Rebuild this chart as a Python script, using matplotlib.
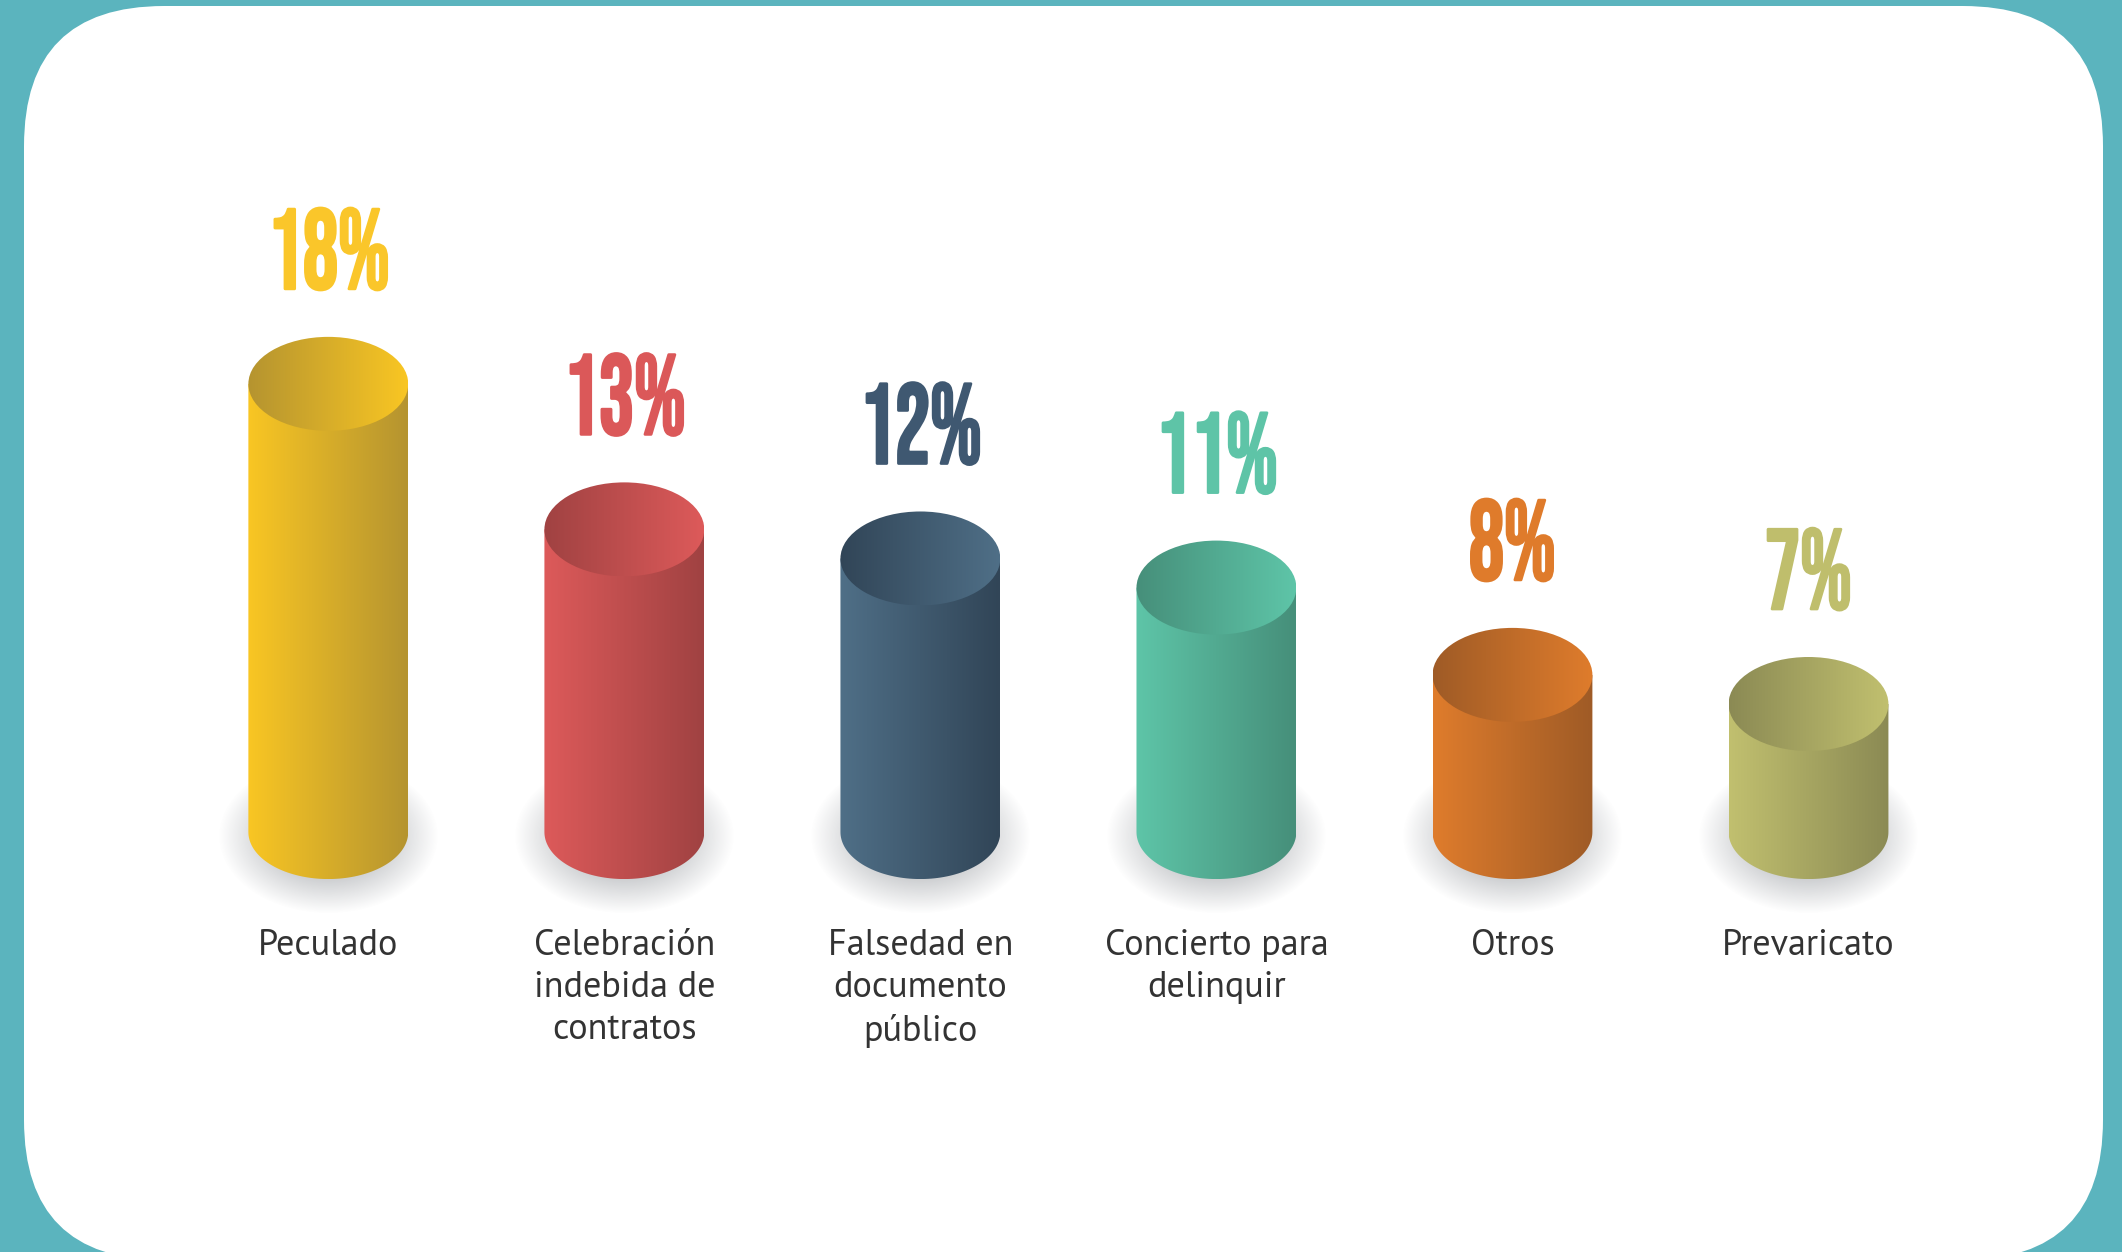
import numpy as np
import matplotlib
matplotlib.use("Agg")
import matplotlib.pyplot as plt
from matplotlib import patheffects
from matplotlib.colors import to_rgb
from matplotlib.patches import Ellipse, FancyBboxPatch, PathPatch
from matplotlib.path import Path
from matplotlib.transforms import Affine2D

categories = ["Peculado", "Celebración\nindebida de\ncontratos",
              "Falsedad en\ndocumento\npúblico", "Concierto para\ndelinquir",
              "Otros", "Prevaricato"]
values = [18, 13, 12, 11, 8, 7]
value_labels = ["18%", "13%", "12%", "11%", "8%", "7%"]

light = ["#F9C623", "#DD5A5A", "#4F6F87", "#5EC5A8", "#DF7C2C", "#C1C06F"]
dark = ["#B59430", "#A04242", "#314557", "#468F7A", "#9F5B26", "#8B8A54"]
text_colors = ["#FAC62A", "#DB5859", "#3F5871", "#5EC4A7", "#DF7B2B", "#BFBE6C"]

BASE = 2.6      # cylinders stand on this level
RX = 0.27       # ellipse half width (x units)
RY = 1.615      # ellipse half height (y units)


class Squeeze(patheffects.AbstractPathEffect):
    """Draw text narrower (squeezed around its own centre) and a bit heavier."""

    def __init__(self, sx, lw=2.0):
        super().__init__()
        self.sx = sx
        self.lw = lw

    def draw_path(self, renderer, gc, tpath, affine, rgbFace=None):
        verts = tpath.vertices
        if tpath.codes is not None:
            verts = verts[tpath.codes != Path.CLOSEPOLY]
        cx = 0.5 * (verts[:, 0].min() + verts[:, 0].max())
        squeeze = Affine2D().translate(-cx, 0).scale(self.sx, 1).translate(cx, 0)
        gc0 = renderer.new_gc()
        gc0.copy_properties(gc)
        gc0.set_linewidth(self.lw)
        gc0.set_joinstyle("round")
        gc0.set_foreground(rgbFace)
        renderer.draw_path(gc0, tpath, squeeze + affine, rgbFace)
        gc0.restore()


def gradient(c0, c1, n=256):
    t = np.linspace(0, 1, n)[None, :, None]
    return (1 - t) * np.array(to_rgb(c0)) + t * np.array(to_rgb(c1))


def draw_cylinder(ax, xc, top, c_light, c_dark):
    # soft shadow round the foot
    gx, gy = np.meshgrid(np.linspace(-1, 1, 200), np.linspace(-1, 1, 200))
    d = np.sqrt(gx ** 2 + gy ** 2)
    shade = np.zeros((200, 200, 4))
    shade[..., :3] = (0.42, 0.44, 0.47)
    shade[..., 3] = 0.75 * np.clip(1 - d, 0, 1)
    ax.imshow(shade, extent=(xc - 1.38 * RX, xc + 1.38 * RX,
                             BASE - 1.75 * RY, BASE + 1.55 * RY),
              origin="lower", aspect="auto", interpolation="bilinear", zorder=1)

    # body: side walls plus the front half of the bottom ellipse
    t = np.linspace(np.pi, 2 * np.pi, 80)
    verts = [(xc - RX, top), (xc - RX, BASE)]
    verts += list(zip(xc + RX * np.cos(t), BASE + RY * np.sin(t)))
    verts += [(xc + RX, top), (xc - RX, top)]
    body = PathPatch(Path(verts), facecolor="none", edgecolor="none",
                     transform=ax.transData)
    ax.add_patch(body)
    im = ax.imshow(gradient(c_light, c_dark),
                   extent=(xc - RX, xc + RX, BASE - RY, top),
                   aspect="auto", interpolation="bilinear", zorder=2)
    im.set_clip_path(body)

    # lid
    lid = Ellipse((xc, top), 2 * RX, 2 * RY, facecolor="none", edgecolor="none")
    ax.add_patch(lid)
    im = ax.imshow(gradient(c_dark, c_light),
                   extent=(xc - RX, xc + RX, top - RY, top + RY),
                   aspect="auto", interpolation="bilinear", zorder=3)
    im.set_clip_path(lid)


fig = plt.figure(figsize=(21.22, 12.52), dpi=100)
fig.patch.set_facecolor("#5BB4BE")

# white rounded card (pixel units)
bg = fig.add_axes([0, 0, 1, 1])
bg.set_xlim(0, 2122)
bg.set_ylim(0, 1252)
bg.axis("off")
bg.add_patch(FancyBboxPatch((24, -8), 2079, 1254,
                            boxstyle="round,pad=0,rounding_size=140",
                            facecolor="white", edgecolor="none"))

ax = fig.add_axes([0, 0, 1, 1])
ax.axis("off")

for i, (v, lab, cat) in enumerate(zip(values, value_labels, categories)):
    draw_cylinder(ax, i, v, light[i], dark[i])
    ax.text(i, v + RY + 1.65, lab, ha="center", va="baseline",
            fontsize=82, family="Bebas Neue", color=text_colors[i],
            path_effects=[Squeeze(0.77, 2.0)], zorder=4)
    ax.text(i, -0.74, cat, ha="center", va="top", fontsize=26,
            family=["PT Sans", "Lato"], color="#333333",
            linespacing=1.35, zorder=4)

ax.set_xlim(-1.109, 6.059)
ax.set_ylim(-11.83, 31.19)

fig.savefig("out.png", dpi=100)
